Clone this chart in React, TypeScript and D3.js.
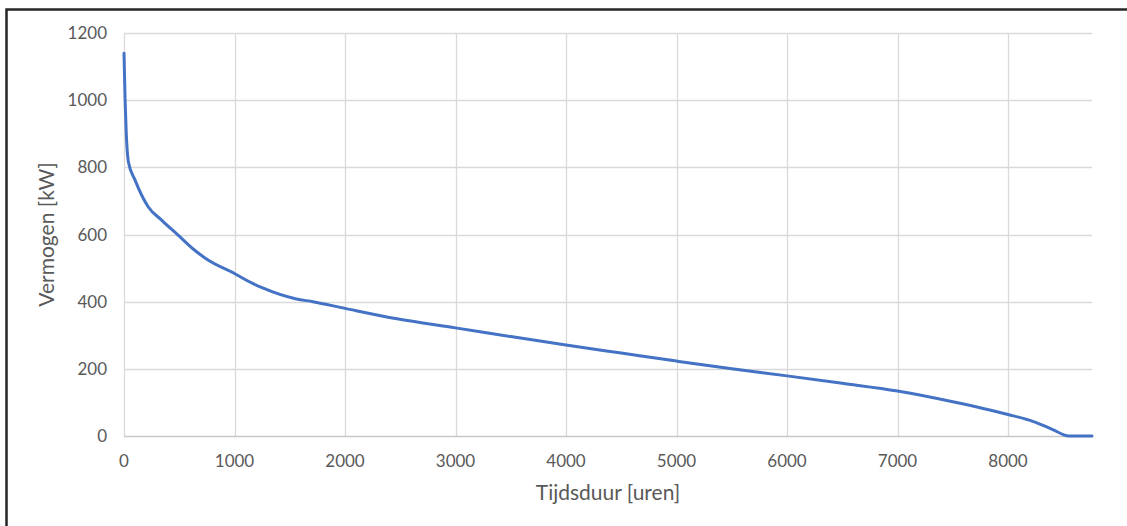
import { useEffect, useRef } from "react";
import * as d3 from "d3";

// load duration curve
const HOURS = [0, 10, 20, 40, 100, 220, 340, 490, 640, 760, 1000, 1130, 1260, 1560, 1710, 2000, 2470, 3000, 3500, 4000, 4500, 5000, 5500, 6000, 6500, 7000, 7500, 8000, 8230, 8400, 8550, 8760];
const POWER = [1140, 1000, 905, 816, 762, 682, 643, 598, 553, 524, 484, 460, 440, 408, 400, 380, 349, 322, 296, 271, 247, 223, 200, 179, 157, 134, 102, 64, 43, 20, 0, 0];
const X_TICKS = [0, 1000, 2000, 3000, 4000, 5000, 6000, 7000, 8000];
const Y_TICKS = [0, 200, 400, 600, 800, 1000, 1200];
const X_TITLE = "Tijdsduur [uren]";
const Y_TITLE = "Vermogen [kW]";

const W = 1127;
const H = 526;
const MARGIN = { top: 33, right: 35, bottom: 90, left: 124 };
const FONT = "Lato, 'Open Sans', sans-serif";
const GRID = "#d9d9d9";
const TEXT = "#595959";
const LINE = "#4472c4";

type Pt = { h: number; p: number };

export default function App() {
  const svgRef = useRef<SVGSVGElement>(null);

  useEffect(() => {
    const svg = d3.select(svgRef.current);
    svg.selectAll("*").remove();

    const data: Pt[] = HOURS.map((h, i) => ({ h, p: POWER[i] }));
    const innerW = W - MARGIN.left - MARGIN.right;
    const innerH = H - MARGIN.top - MARGIN.bottom;

    svg.append("rect").attr("width", W).attr("height", H).attr("fill", "#fff");

    // outer frame (runs off the right and bottom edges)
    svg.append("rect")
      .attr("x", 6.5)
      .attr("y", 9.5)
      .attr("width", W + 20)
      .attr("height", H + 20)
      .attr("fill", "none")
      .attr("stroke", "#262626")
      .attr("stroke-width", 2.5);

    const g = svg.append("g").attr("transform", `translate(${MARGIN.left},${MARGIN.top})`);

    const x = d3.scaleLinear().domain([0, 8760]).range([0, innerW]);
    const y = d3.scaleLinear().domain([0, 1200]).range([innerH, 0]);

    g.append("g")
      .selectAll("line")
      .data(Y_TICKS.filter((d) => d > 0))
      .enter()
      .append("line")
      .attr("x1", 0)
      .attr("x2", innerW)
      .attr("y1", (d) => Math.round(y(d)) + 0.5)
      .attr("y2", (d) => Math.round(y(d)) + 0.5)
      .attr("stroke", GRID)
      .attr("stroke-width", 1.3);

    g.append("g")
      .selectAll("line")
      .data(X_TICKS)
      .enter()
      .append("line")
      .attr("x1", (d) => Math.round(x(d)) + 0.5)
      .attr("x2", (d) => Math.round(x(d)) + 0.5)
      .attr("y1", 0)
      .attr("y2", innerH)
      .attr("stroke", GRID)
      .attr("stroke-width", 1.3);

    // x baseline
    g.append("line")
      .attr("x1", 0)
      .attr("x2", innerW)
      .attr("y1", innerH + 0.5)
      .attr("y2", innerH + 0.5)
      .attr("stroke", "#c8c8c8")
      .attr("stroke-width", 1.5);

    g.append("g")
      .selectAll("text")
      .data(Y_TICKS)
      .enter()
      .append("text")
      .attr("x", -17)
      .attr("y", (d) => y(d))
      .attr("dy", "0.36em")
      .attr("text-anchor", "end")
      .attr("fill", TEXT)
      .attr("font-family", FONT)
      .attr("font-size", 17)
      .text((d) => d);

    g.append("g")
      .selectAll("text")
      .data(X_TICKS)
      .enter()
      .append("text")
      .attr("x", (d) => x(d))
      .attr("y", innerH + 31)
      .attr("text-anchor", "middle")
      .attr("fill", TEXT)
      .attr("font-family", FONT)
      .attr("font-size", 17)
      .text((d) => d);

    const line = d3
      .line<Pt>()
      .x((d) => x(d.h))
      .y((d) => y(d.p))
      .curve(d3.curveMonotoneX);

    g.append("path")
      .datum(data)
      .attr("fill", "none")
      .attr("stroke", LINE)
      .attr("stroke-width", 3)
      .attr("stroke-linejoin", "round")
      .attr("stroke-linecap", "round")
      .attr("d", line);

    svg.append("text")
      .attr("transform", `translate(54,${MARGIN.top + innerH / 2}) rotate(-90)`)
      .attr("text-anchor", "middle")
      .attr("fill", TEXT)
      .attr("font-family", FONT)
      .attr("font-size", 21)
      .text(Y_TITLE);

    svg.append("text")
      .attr("x", MARGIN.left + innerW / 2)
      .attr("y", 500)
      .attr("text-anchor", "middle")
      .attr("fill", TEXT)
      .attr("font-family", FONT)
      .attr("font-size", 21)
      .text(X_TITLE);
  }, []);

  return (
    <svg
      ref={svgRef}
      width={W}
      height={H}
      style={{ position: "absolute", left: 0, top: 0, display: "block" }}
    />
  );
}
